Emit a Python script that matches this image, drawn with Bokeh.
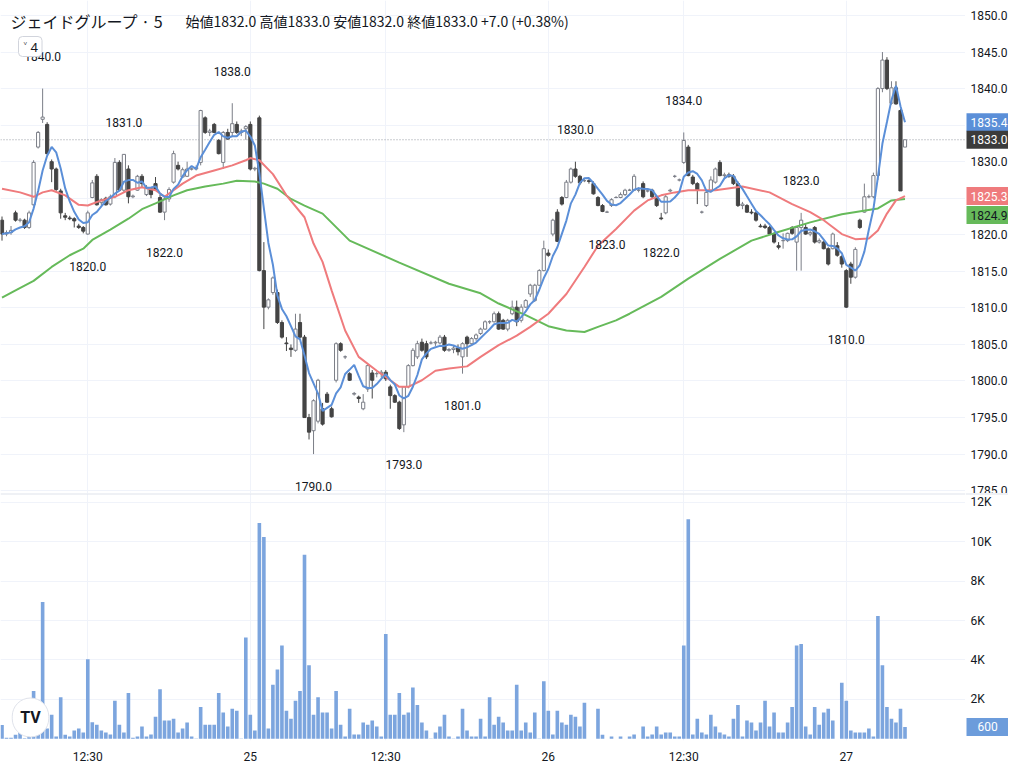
import pandas as pd
from bokeh.plotting import figure
from bokeh.models import Range1d, FixedTicker, Label, Span
from bokeh.layouts import column, row
from bokeh.core.properties import value
from bokeh.embed import file_html
from bokeh.resources import INLINE

# ---------------- data (5-minute bars) ----------------
opens = [1822.0,1820.1,1820.3,1823.0,1822.0,1822.0,1821.0,1824.1,1832.0,1835.8,
         1835.1,1830.0,1829.0,1826.0,1822.6,1822.3,1822.2,1821.2,1821.0,1820.1,
         1825.1,1828.0,1824.4,1825.0,1824.2,1825.2,1829.9,1826.1,1829.0,1825.2,
         1826.1,1828.0,1825.5,1826.3,1827.0,1825.1,1823.1,1824.9,1827.2,1829.5,
         1827.9,1828.0,1829.0,1829.0,1829.9,1836.0,1834.0,1835.1,1832.9,1829.9,
         1834.0,1834.0,1835.1,1834.0,1834.5,1835.1,1829.0,1836.0,1815.1,1810.1,
         1812.1,1812.1,1808.0,1805.2,1804.5,1804.2,1808.0,1806.0,1795.0,1793.2,
         1794.5,1796.2,1798.2,1796.2,1800.1,1805.1,1803.3,1801.0,1798.2,1797.8,
         1796.2,1798.9,1801.1,1801.0,1801.0,1801.2,1799.2,1798.0,1797.1,1794.0,
         1799.2,1802.1,1803.3,1805.3,1805.1,1805.2,1805.2,1805.2,1806.0,1804.2,
         1804.3,1804.5,1803.3,1806.0,1805.1,1805.8,1806.5,1807.1,1808.1,1808.1,
         1809.2,1808.3,1807.1,1809.2,1810.1,1808.3,1810.1,1811.9,1811.0,1813.1,
         1815.1,1817.5,1820.1,1823.1,1825.1,1825.1,1827.2,1829.0,1828.0,1827.4,
         1827.4,1827.0,1825.1,1824.0,1823.1,1824.0,1825.1,1825.1,1825.5,1826.1,
         1826.1,1826.1,1827.0,1826.0,1826.1,1825.2,1822.3,1823.0,1826.0,1828.0,
         1827.5,1829.9,1832.0,1827.9,1827.0,1823.1,1824.0,1826.0,1827.2,1829.9,
         1828.1,1828.2,1828.0,1827.0,1824.0,1824.0,1823.1,1823.0,1821.2,1821.2,
         1821.0,1820.1,1818.5,1819.2,1819.2,1821.0,1819.0,1821.0,1821.0,1820.1,
         1821.0,1819.0,1819.0,1818.1,1818.1,1818.5,1817.0,1815.1,1816.0,1814.2,
         1822.0,1823.1,1825.2,1825.2,1828.1,1840.0,1843.9,1838.0,1840.1,1837.0,
         1832.0]
highs = [1822.5,1820.6,1821.2,1823.3,1822.3,1822.2,1823.3,1830.2,1834.2,1840.0,
         1835.4,1830.3,1829.2,1826.3,1823.0,1822.6,1822.4,1821.5,1821.2,1823.3,
         1827.5,1828.3,1825.0,1825.2,1825.5,1830.5,1830.2,1831.0,1829.5,1825.5,
         1828.2,1828.3,1826.8,1826.5,1827.9,1825.5,1825.2,1826.5,1831.5,1830.0,
         1829.2,1830.0,1829.2,1829.5,1837.1,1836.2,1834.5,1835.3,1833.1,1834.2,
         1834.5,1838.0,1835.5,1834.5,1835.0,1835.5,1829.3,1836.3,1819.0,1811.3,
         1814.3,1812.5,1808.3,1806.0,1805.0,1809.2,1809.2,1806.3,1795.5,1797.5,
         1800.3,1797.0,1798.5,1796.5,1805.3,1805.3,1803.5,1801.2,1798.5,1798.0,
         1798.2,1802.3,1801.5,1801.3,1801.5,1801.5,1799.5,1798.2,1797.3,1799.3,
         1802.3,1804.5,1805.5,1805.8,1805.5,1805.5,1805.5,1806.3,1806.3,1804.5,
         1804.8,1805.0,1805.3,1806.2,1806.0,1806.5,1807.3,1808.3,1808.3,1809.5,
         1809.5,1808.5,1808.5,1811.0,1811.0,1810.5,1811.2,1813.3,1813.3,1815.3,
         1819.2,1818.0,1822.2,1823.5,1825.3,1827.5,1829.2,1830.0,1828.2,1827.6,
         1827.6,1827.3,1825.3,1824.2,1823.3,1825.0,1825.3,1825.8,1826.3,1826.3,
         1828.3,1826.5,1827.3,1826.3,1826.3,1825.4,1823.0,1825.5,1826.3,1828.2,
         1827.7,1834.0,1832.3,1828.2,1827.2,1823.3,1826.0,1828.0,1829.2,1830.2,
         1828.5,1828.5,1828.3,1827.3,1824.5,1824.2,1823.5,1823.2,1821.5,1821.5,
         1821.2,1820.3,1819.0,1820.2,1820.3,1821.2,1821.2,1823.0,1821.5,1820.5,
         1821.2,1819.5,1819.2,1818.3,1820.3,1819.0,1817.2,1815.3,1816.3,1818.3,
         1822.2,1827.0,1825.5,1828.5,1840.2,1845.0,1844.3,1841.0,1841.0,1837.2,
         1833.0]
lows = [1819.2,1819.8,1820.0,1821.8,1821.7,1820.8,1820.8,1824.0,1831.8,1835.3,
        1831.0,1827.2,1826.0,1822.2,1822.0,1822.0,1821.0,1820.8,1820.2,1820.0,
        1825.0,1824.0,1824.0,1824.0,1824.0,1825.0,1826.0,1825.8,1824.3,1825.0,
        1826.0,1826.5,1825.3,1825.0,1826.0,1823.0,1822.0,1824.5,1827.0,1828.8,
        1827.8,1827.9,1828.8,1828.8,1829.5,1833.8,1833.5,1833.9,1831.0,1829.0,
        1833.0,1833.5,1833.8,1833.5,1833.0,1828.8,1828.7,1815.0,1807.1,1809.8,
        1811.8,1807.8,1805.8,1804.1,1803.3,1804.0,1805.8,1795.0,1792.0,1790.0,
        1794.2,1793.9,1797.0,1795.0,1799.8,1804.0,1803.0,1800.0,1798.0,1797.0,
        1796.0,1798.5,1797.6,1800.5,1800.5,1800.0,1796.2,1797.0,1793.3,1793.0,
        1799.0,1802.0,1803.0,1804.0,1803.0,1805.0,1804.8,1805.0,1804.0,1804.0,
        1803.8,1803.5,1801.0,1803.3,1804.8,1805.5,1806.3,1807.0,1807.8,1808.0,
        1807.0,1807.0,1806.8,1809.0,1807.5,1808.0,1810.0,1811.5,1810.8,1813.0,
        1815.0,1817.0,1819.8,1819.0,1824.0,1825.0,1827.0,1827.8,1826.8,1827.2,
        1827.0,1825.5,1823.9,1823.1,1823.0,1823.8,1825.0,1825.0,1825.3,1826.0,
        1826.0,1825.8,1825.0,1825.8,1825.0,1823.8,1822.0,1822.8,1825.8,1827.8,
        1827.3,1829.7,1828.0,1826.8,1824.2,1822.9,1823.8,1825.8,1827.0,1828.0,
        1827.8,1827.8,1826.8,1823.8,1823.5,1823.0,1822.8,1821.8,1821.0,1820.8,
        1820.0,1818.8,1818.0,1818.1,1819.0,1820.0,1815.1,1815.1,1820.0,1819.8,
        1818.8,1818.8,1818.0,1815.8,1818.0,1817.0,1815.5,1810.0,1813.3,1814.0,
        1820.8,1823.0,1825.0,1825.0,1827.5,1839.5,1839.8,1837.8,1837.8,1826.0,
        1832.0]
closes = [1820.1,1820.3,1820.6,1822.0,1822.0,1821.0,1823.0,1829.9,1834.0,1836.1,
          1831.1,1829.0,1826.2,1823.0,1822.4,1822.2,1821.9,1821.0,1820.5,1823.0,
          1827.1,1824.1,1824.8,1824.1,1825.2,1829.9,1826.1,1831.0,1825.2,1825.3,
          1828.0,1827.0,1826.5,1825.5,1826.1,1823.1,1824.9,1826.2,1831.1,1829.0,
          1828.9,1829.0,1829.0,1829.2,1837.0,1834.0,1834.2,1834.0,1831.1,1834.0,
          1833.1,1835.2,1834.0,1834.2,1834.8,1829.0,1829.1,1815.1,1810.1,1811.1,
          1814.1,1808.0,1806.0,1805.1,1804.3,1807.1,1806.0,1795.0,1793.0,1797.3,
          1800.1,1794.1,1797.1,1795.1,1805.1,1804.2,1803.3,1800.1,1798.3,1797.6,
          1797.1,1802.1,1800.1,1801.0,1801.2,1800.3,1798.0,1797.1,1793.5,1799.2,
          1802.1,1804.2,1805.1,1804.2,1803.3,1805.2,1805.3,1806.0,1804.2,1804.3,
          1804.5,1804.0,1805.1,1805.1,1805.8,1806.3,1807.1,1808.1,1808.1,1809.2,
          1807.1,1807.1,1808.3,1810.1,1808.1,1810.1,1811.0,1813.1,1813.1,1815.1,
          1818.1,1817.2,1822.0,1819.1,1824.2,1827.2,1829.0,1828.0,1827.1,1827.4,
          1827.3,1825.6,1824.0,1823.2,1823.1,1824.8,1825.1,1825.5,1826.1,1826.1,
          1828.0,1826.1,1825.2,1826.0,1825.2,1824.0,1822.2,1825.2,1826.1,1828.0,
          1827.5,1832.9,1828.1,1827.0,1826.1,1823.1,1825.8,1827.5,1829.0,1828.1,
          1828.2,1828.0,1827.0,1824.0,1824.2,1823.1,1823.0,1822.0,1821.1,1821.0,
          1820.1,1819.0,1818.3,1819.2,1820.2,1820.2,1821.0,1822.0,1820.1,1820.3,
          1819.0,1819.2,1818.1,1816.0,1820.1,1817.2,1816.0,1810.1,1814.2,1818.0,
          1821.0,1825.2,1825.2,1828.1,1840.0,1843.9,1840.0,1840.1,1837.9,1826.0,
          1833.0]
volumes = [700,50,50,200,340,30,200,2430,420,6950,
           520,1220,120,2110,200,120,420,520,320,4040,
           845,710,420,320,220,1930,710,320,2330,50,
           120,625,120,220,1115,2520,930,930,1015,320,
           520,830,120,20,1620,710,710,710,2330,1335,
           625,1520,1420,20,5140,1220,420,10950,10240,520,
           2740,3515,4730,1420,1015,1930,2430,9345,3735,1220,
           2110,1335,1335,520,2430,710,120,1520,220,220,
           830,710,930,625,120,5320,1220,1220,2330,1220,
           1335,2600,1710,830,420,20,320,625,1220,120,
           20,120,1520,420,120,120,1015,120,2110,710,
           1115,830,420,420,2740,420,830,320,1335,20,
           2920,1420,220,1420,830,710,1220,1115,625,1825,
           0,0,1520,200,0,120,0,120,0,120,
           220,0,625,120,220,625,220,320,320,120,
           120,4730,11150,220,1015,320,220,1220,625,320,
           220,120,1015,1710,120,930,830,420,830,1930,
           625,1335,320,320,830,1620,4730,4815,625,220,
           1620,710,1335,1520,930,0,2840,1930,420,320,
           320,320,520,120,6235,3735,1620,1015,830,1520,
           600]

# moving averages (bar index, value)
red_ma = [(0,1826.3),(4,1825.8),(7,1825.2),(9,1825.8),(11,1826.1),(14,1825.4),(17,1824.1),
          (19,1824.0),(22,1824.7),(25,1825.2),(28,1826.1),(31,1826.5),(34,1826.1),(36,1825.2),
          (40,1827.0),(43,1828.1),(47,1828.8),(51,1829.5),(54,1830.2),(55,1830.5),(57,1830.2),
          (60,1828.3),(63,1825.4),(67,1822.4),(69,1818.8),(71,1816.3),(73,1812.4),(76,1806.9),
          (79,1803.3),(83,1801.4),(86,1800.1),(88,1799.2),(90,1799.2),(93,1800.1),(96,1801.4),
          (99,1801.7),(103,1802.0),(106,1803.3),(110,1804.9),(114,1806.2),(117,1807.4),
          (121,1809.2),(125,1811.9),(129,1815.6),(132,1818.5),(136,1820.8),(140,1823.3),
          (143,1824.7),(146,1825.4),(149,1825.8),(152,1826.1),(158,1826.1),(164,1826.6),
          (170,1825.8),(175,1824.2),(179,1823.1),(182,1822.0),(186,1820.1),(189,1819.4),
          (192,1819.5),(194,1820.6),(196,1822.9),(198,1824.7),(200,1825.3)]
green_ma = [(0,1811.4),(3,1812.4),(7,1813.7),(11,1815.6),(15,1817.2),(18,1818.1),(20,1819.3),
            (24,1820.7),(28,1822.2),(31,1823.5),(34,1824.3),(38,1825.4),(41,1826.1),(45,1826.6),
            (49,1827.0),(52,1827.4),(56,1827.3),(58,1827.0),(61,1826.3),(64,1824.9),(67,1824.0),
            (71,1822.9),(77,1819.2),(88,1816.2),(99,1813.3),(106,1812.0),(110,1810.6),
            (116,1809.0),(121,1807.5),(125,1806.9),(129,1806.7),(132,1807.4),(136,1808.3),
            (139,1809.2),(146,1811.5),(152,1814.0),(159,1816.7),(166,1819.2),(171,1820.2),
            (179,1821.7),(186,1822.8),(194,1823.6),(197,1824.7),(200,1824.9)]

tick_idx = [19, 55, 85, 121, 151, 187]
tick_text = ["12:30", "25", "12:30", "26", "12:30", "27"]
price_ticks = list(range(1785, 1851, 5))
vol_ticks = [2000, 4000, 6000, 8000, 10000, 12000]
vol_tick_text = ["2K", "4K", "6K", "8K", "10K", "12K"]
high_marks = [9, 27, 51, 127, 151, 177]
low_marks = [19, 36, 69, 89, 102, 134, 146, 187]
title_text = "ジェイドグループ · 5"

# ---------------- styling / layout ----------------
TXT = "#131722"
GRID = "#f0f3fa"
UP_LINE = "#7b7e87"
DN = "#444444"
BLUE = "#5b8fd8"
RED = "#ef7b7d"
GREEN = "#66ba5a"
VOL = "#7ca5de"
FONT = "Roboto"

MAIN_W = 965
STRIP_W = 43
bar_px = 4.515
x0_px = 1.5
xs = -x0_px / bar_px
xe = xs + MAIN_W / bar_px

P_H = 493
p_top, p_bot = 1852.05, 1784.61
V_H = 275
V_B = 28
v_top, v_bot = 12451, -86

df = pd.DataFrame(dict(i=range(len(closes)), o=opens, h=highs, l=lows, c=closes, v=volumes))
df["top"] = df[["o", "c"]].max(axis=1)
df["bot"] = df[["o", "c"]].min(axis=1)
up = df[df.c >= df.o]
dn = df[df.c < df.o]
blue_ma = df.c.rolling(5, min_periods=1).mean()

common = dict(toolbar_location=None, output_backend="svg", min_border_left=0,
              min_border_right=0, min_border_top=0, outline_line_color=None,
              x_axis_location=None, y_axis_location=None)

# ---------------- price pane ----------------
pyr = Range1d(p_bot, p_top)
p = figure(width=MAIN_W, height=P_H, x_range=Range1d(xs, xe), y_range=pyr,
           min_border_bottom=0, **common)
p.xgrid.ticker = FixedTicker(ticks=tick_idx)
p.ygrid.ticker = FixedTicker(ticks=price_ticks)
p.grid.grid_line_color = GRID
p.add_layout(Span(location=closes[-1], dimension="width", line_color="#9598a1",
                  line_dash="1 2", line_width=1, level="underlay"))

p.segment(up.i, up.l, up.i, up.h, line_color=UP_LINE, line_width=1)
p.segment(dn.i, dn.l, dn.i, dn.h, line_color=DN, line_width=1)
p.vbar(x=up.i, bottom=up.bot, top=up.top, width=0.7, fill_color="white", line_color=UP_LINE, line_width=1)
p.vbar(x=dn.i, bottom=dn.bot, top=dn.top, width=0.7, fill_color=DN, line_color=DN, line_width=1)

p.line([a for a, b in green_ma], [b for a, b in green_ma], line_color=GREEN, line_width=2)
p.line([a for a, b in red_ma], [b for a, b in red_ma], line_color=RED, line_width=2)
p.line(df.i, blue_ma, line_color=BLUE, line_width=2)

p.text(x=high_marks, y=[highs[i] for i in high_marks], text=[f"{highs[i]:.1f}" for i in high_marks],
       text_align="center", text_baseline="middle", y_offset=-32,
       text_font=value(FONT), text_font_size="12px", text_color=TXT)
p.text(x=low_marks, y=[lows[i] for i in low_marks], text=[f"{lows[i]:.1f}" for i in low_marks],
       text_align="center", text_baseline="middle", y_offset=32,
       text_font=value(FONT), text_font_size="12px", text_color=TXT)

chg = closes[-1] - closes[-2]
pct = chg / closes[-2] * 100
ohlc_text = (f"始値{opens[-1]:.1f}  高値{highs[-1]:.1f}  安値{lows[-1]:.1f}  "
             f"終値{closes[-1]:.1f}  {chg:+.1f} ({pct:+.2f}%)")
p.add_layout(Label(x=10, y=P_H - 20, x_units="screen", y_units="screen", text=title_text,
                   text_font="Noto Sans CJK JP", text_font_size="16px", text_color=TXT,
                   text_baseline="middle"))
p.add_layout(Label(x=185, y=P_H - 20, x_units="screen", y_units="screen", text=ohlc_text,
                   text_font="Noto Sans CJK JP", text_font_size="14px", text_color=TXT,
                   text_baseline="middle"))
p.add_layout(Label(x=18, y=P_H - 46, x_units="screen", y_units="screen", text="˅ 4",
                   text_font="Noto Sans", text_font_size="13px", text_color=TXT,
                   text_baseline="middle", border_line_color="#d1d4dc", border_radius=4,
                   padding=dict(left=5, right=4, top=1, bottom=1), background_fill_color="white"))

# price scale strip (tick labels + last-value tags)
ps = figure(width=STRIP_W, height=P_H, x_range=Range1d(0, STRIP_W), y_range=pyr,
            min_border_bottom=0, **common)
ps.grid.visible = False
ps.text(x=[5] * len(price_ticks), y=price_ticks, text=[f"{t:.1f}" for t in price_ticks],
        text_baseline="middle", text_font=value(FONT), text_font_size="12px", text_color=TXT)
px_per_unit = P_H / (p_top - p_bot)
red_last = red_ma[-1][1]
green_last = green_ma[-1][1]
tag_vals = [blue_ma.iloc[-1], closes[-1], red_last, green_last]
tag_pos = [blue_ma.iloc[-1], closes[-1], red_last, red_last - 19 / px_per_unit]
tag_bg = [BLUE, "#3b3b3b", RED, GREEN]
tag_fg = ["white", "white", "white", TXT]
ps.rect(x=STRIP_W / 2 + 1, y=tag_pos, width=STRIP_W, height=18, height_units="screen",
        fill_color=tag_bg, line_color=None)
ps.text(x=[5] * 4, y=tag_pos, text=[f"{t:.1f}" for t in tag_vals], text_baseline="middle",
        text_font=value(FONT), text_font_size="12px", text_color=tag_fg)

# ---------------- volume pane ----------------
vyr = Range1d(v_bot, v_top)
v = figure(width=MAIN_W, height=V_H, x_range=p.x_range, y_range=vyr,
           toolbar_location=None, output_backend="svg", min_border_left=0, min_border_right=0,
           min_border_top=0, min_border_bottom=V_B, outline_line_color=None,
           y_axis_location=None)
v.xgrid.ticker = FixedTicker(ticks=tick_idx)
v.ygrid.ticker = FixedTicker(ticks=vol_ticks)
v.grid.grid_line_color = GRID
v.vbar(x=df.i, top=df.v, bottom=0, width=0.8, fill_color=VOL, line_color=None)
vx = v.xaxis[0]
vx.ticker = FixedTicker(ticks=tick_idx)
vx.major_label_overrides = {t: s for t, s in zip(tick_idx, tick_text)}
vx.axis_line_color = None
vx.major_tick_line_color = None
vx.minor_tick_line_color = None
vx.major_tick_out = 0
vx.major_tick_in = 0
vx.major_label_text_font = FONT
vx.major_label_text_font_size = "12px"
vx.major_label_text_color = TXT
vx.major_label_standoff = 9
v.add_layout(Span(location=v_top, dimension="width", line_color="#e0e3eb", line_width=2))
v.add_layout(Label(x=30, y=23, x_units="screen", y_units="screen", text="TV",
                   text_font=FONT, text_font_size="16px", text_font_style="bold",
                   text_color=TXT, text_align="center", text_baseline="middle",
                   background_fill_color="white", border_line_color="#e0e3eb",
                   border_radius=19, padding=dict(left=8, right=8, top=10, bottom=10)))

vs = figure(width=STRIP_W, height=V_H, x_range=Range1d(0, STRIP_W), y_range=vyr,
            min_border_bottom=V_B, **common)
vs.grid.visible = False
vs.text(x=[5] * len(vol_ticks), y=vol_ticks, text=vol_tick_text, text_baseline="middle",
        text_font=value(FONT), text_font_size="12px", text_color=TXT)
vs.add_layout(Span(location=v_top, dimension="width", line_color="#e0e3eb", line_width=2))
vs.rect(x=[STRIP_W / 2 + 1], y=[volumes[-1]], width=STRIP_W, height=18, height_units="screen",
        fill_color="#6c9cdb", line_color=None)
vs.text(x=[12], y=[volumes[-1]], text=[f"{volumes[-1]}"], text_baseline="middle",
        text_font=value(FONT), text_font_size="12px", text_color="white")

layout = column(row(p, ps, spacing=0), row(v, vs, spacing=0), spacing=0)
open("out.html", "w").write(file_html(layout, INLINE))
